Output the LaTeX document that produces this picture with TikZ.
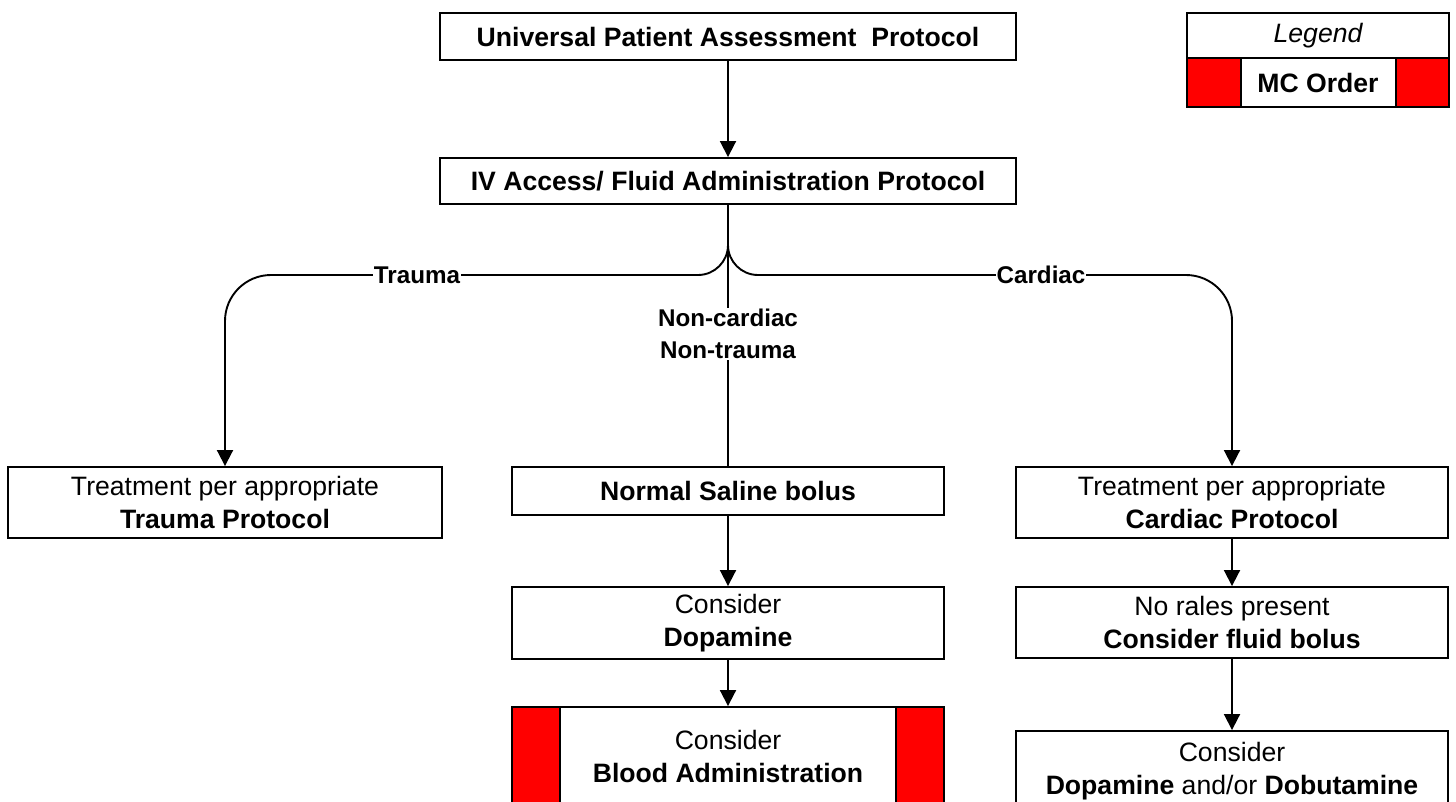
\documentclass[tikz,border=0pt]{standalone}
\usepackage{fontspec}
\setmainfont{Liberation Sans}
\usetikzlibrary{arrows.meta}
\definecolor{mcred}{RGB}{255,0,0}
\begin{document}
\begin{tikzpicture}[x=1pt,y=-1pt,
  box/.style={draw, line width=1.9pt, fill=white, inner sep=0pt, align=center,
    font=\fontsize{26.6}{33}\selectfont},
  mcstrip/.style={draw, line width=1.9pt, fill=mcred, inner sep=0pt},
  conn/.style={line width=1.9pt},
  arr/.style={line width=1.9pt, -{Triangle[length=16pt,width=16pt]}},
  lab/.style={font=\bfseries\fontsize{24.2}{32}\selectfont, fill=white, inner sep=1pt, align=center}]
\useasboundingbox (0,0) rectangle (1456,801);

% main column
\node[box, minimum width=576pt, minimum height=47pt] (upa) at (728,36.5)
  {\textbf{Universal Patient Assessment~~Protocol}};
\node[box, minimum width=576pt, minimum height=46pt] (iv) at (728,181)
  {\textbf{IV Access/ Fluid Administration Protocol}};

\node[box, minimum width=434pt, minimum height=71pt] (trauma) at (225,502.5)
  {Treatment per appropriate\\\textbf{Trauma Protocol}};
\node[box, minimum width=432pt, minimum height=48pt] (saline) at (728,491)
  {\textbf{Normal Saline bolus}};
\node[box, minimum width=432pt, minimum height=71pt] (cardiac) at (1232,502.5)
  {Treatment per appropriate\\\textbf{Cardiac Protocol}};

\node[box, minimum width=432pt, minimum height=72pt] (dopa) at (728,623)
  {Consider\\\textbf{Dopamine}};
\node[box, minimum width=432pt, minimum height=71pt] (rales) at (1232,622.5)
  {No rales present\\\textbf{Consider fluid bolus}};

\node[box, minimum width=432pt, minimum height=98pt] (blood) at (728,756)
  {Consider\\\textbf{Blood Administration}};
\node[mcstrip, minimum width=48pt, minimum height=98pt, anchor=west] (bloodL) at (blood.west) {};
\node[mcstrip, minimum width=48pt, minimum height=98pt, anchor=east] (bloodR) at (blood.east) {};

\node[box, minimum width=432pt, minimum height=80pt] (dobu) at (1232,771)
  {Consider\\\textbf{Dopamine} and/or \textbf{Dobutamine}};

% legend
\node[box, minimum width=262pt, minimum height=45pt] (legtop) at (1318,35.5)
  {\itshape Legend};
\node[box, minimum width=262pt, minimum height=49pt] (legbot) at (1318,82.5)
  {\textbf{MC Order}};
\node[mcstrip, minimum width=54pt, minimum height=49pt, anchor=west] (legL) at (legbot.west) {};
\node[mcstrip, minimum width=53pt, minimum height=49pt, anchor=east] (legR) at (legbot.east) {};

% connectors
\coordinate (jn) at (728,275);
\draw[arr] (upa) -- (iv);
\draw[arr] (iv.south) [rounded corners=30pt] -- (jn) [rounded corners=46pt] -- (jn -| trauma.north) -- (trauma.north);
\draw[arr] (iv.south) [rounded corners=30pt] -- (jn) [rounded corners=46pt] -- (jn -| cardiac.north) -- (cardiac.north);

\node[lab] (ltrauma) at (417,275) {Trauma};
\node[lab] (lcardiac) at (1041,275) {Cardiac};
\node[lab, fill=none, inner ysep=1pt] (lnc) at (728,334) {Non-cardiac\\Non-trauma};

\draw[conn] (iv.south) -- (lnc.north);
\draw[conn] (lnc.south) -- (saline.north);

\draw[arr] (saline) -- (dopa);
\draw[arr] (dopa) -- (blood);
\draw[arr] (cardiac) -- (rales);
\draw[arr] (rales) -- (dobu);
\end{tikzpicture}
\end{document}
